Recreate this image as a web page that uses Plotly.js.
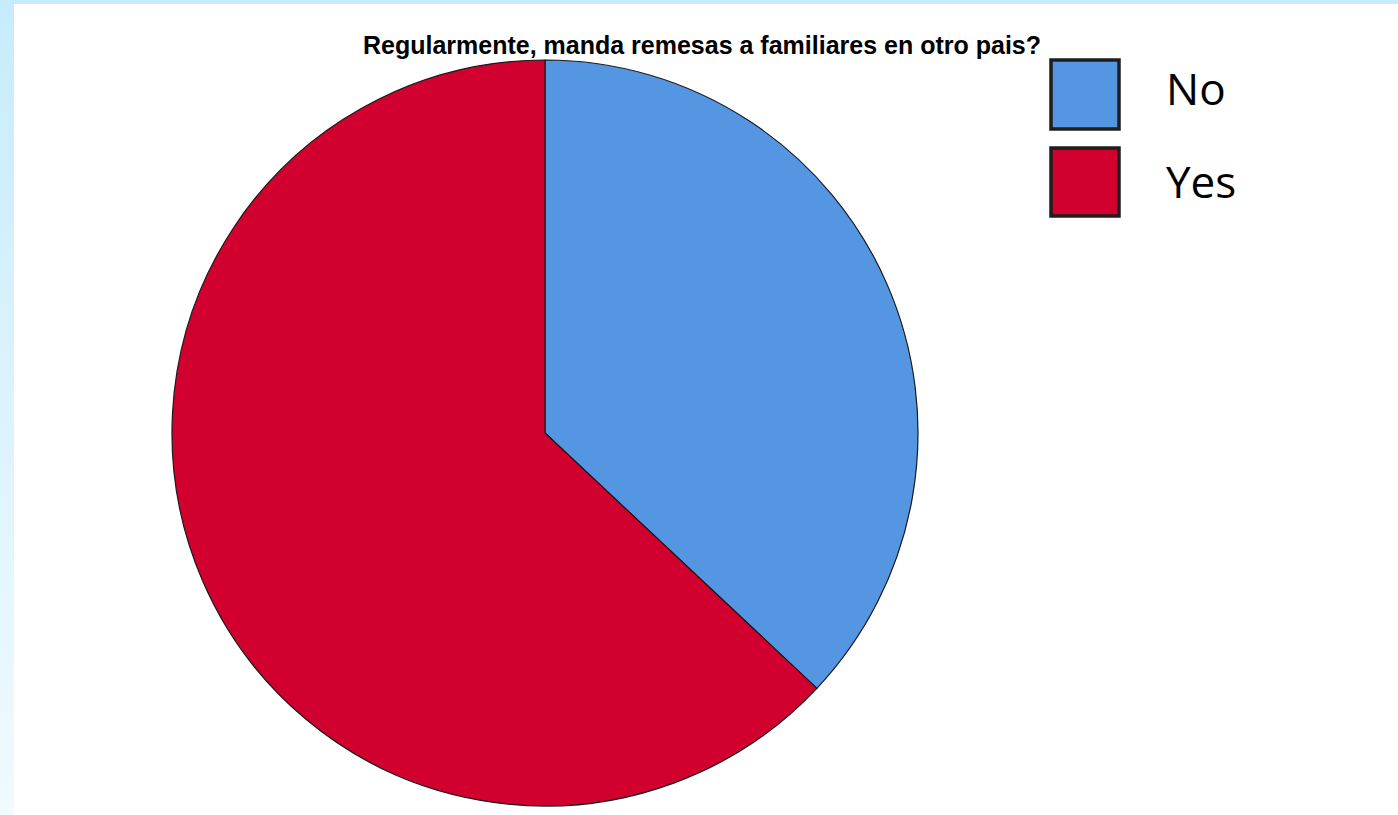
<!DOCTYPE html>
<html>
<head>
<meta charset="utf-8">
<script src="https://cdn.plot.ly/plotly-3.0.1.min.js"></script>
<style>
  html, body { margin: 0; padding: 0; background: #ffffff; width: 1398px; height: 815px; overflow: hidden; }
  #leftstrip { position: absolute; left: 0; top: 0; width: 14px; height: 815px;
    background: linear-gradient(to bottom, #c6ecfb 0%, #dcf3fd 50%, #f0faff 100%); }
  #topstrip { position: absolute; left: 0; top: 0; width: 1398px; height: 4px; background: #c6ecfb; }
  #chart { position: absolute; left: 0; top: 0; width: 1398px; height: 815px; }
</style>
</head>
<body>
<div id="leftstrip"></div>
<div id="topstrip"></div>
<div id="chart"></div>
<script>
// Data
const categories = ['No', 'Yes'];
const values = [37, 63];
const sliceColors = ['#5596E3', '#D2002F'];
const chartTitle = 'Regularmente, manda remesas a familiares en otro pais?';

const W = 1398, H = 815;
const px = x => x / W;
const py = y => 1 - y / H;

// Pie geometry (pixels)
const cx = 545, cy = 433, r = 373;

const trace = {
  type: 'pie',
  labels: categories,
  values: values,
  sort: false,
  direction: 'clockwise',
  rotation: 0,
  textinfo: 'none',
  hoverinfo: 'label+percent',
  showlegend: false,
  marker: { colors: sliceColors, line: { color: '#1a1a1a', width: 1.2 } },
  domain: { x: [px(cx - r), px(cx + r)], y: [py(cy + r), py(cy - r)] }
};

// Legend drawn as shapes + annotations
const legendBoxes = [[60, 129], [148, 216]];
const legendTextY = [88, 181];
const shapes = categories.map((c, i) => ({
  type: 'rect', xref: 'paper', yref: 'paper',
  x0: px(1051), x1: px(1119), y0: py(legendBoxes[i][1]), y1: py(legendBoxes[i][0]),
  fillcolor: sliceColors[i], line: { color: '#1e1e1e', width: 3.5 }
}));
const annotations = categories.map((c, i) => ({
  xref: 'paper', yref: 'paper', x: px(1164), y: py(legendTextY[i]),
  xanchor: 'left', yanchor: 'middle', showarrow: false, text: c,
  font: { family: 'Open Sans, sans-serif', size: 44, color: '#000000' }
}));

const layout = {
  width: W, height: H,
  margin: { l: 0, r: 0, t: 0, b: 0 },
  paper_bgcolor: 'rgba(0,0,0,0)',
  plot_bgcolor: 'rgba(0,0,0,0)',
  title: {
    text: '<b>' + chartTitle + '</b>',
    x: px(702), xref: 'paper', xanchor: 'center',
    y: py(45), yref: 'container', yanchor: 'middle',
    font: { family: 'Liberation Sans, Arial, sans-serif', size: 25, color: '#000000' }
  },
  shapes: shapes,
  annotations: annotations
};

Plotly.newPlot('chart', [trace], layout, { displayModeBar: false, staticPlot: true });
</script>
</body>
</html>
